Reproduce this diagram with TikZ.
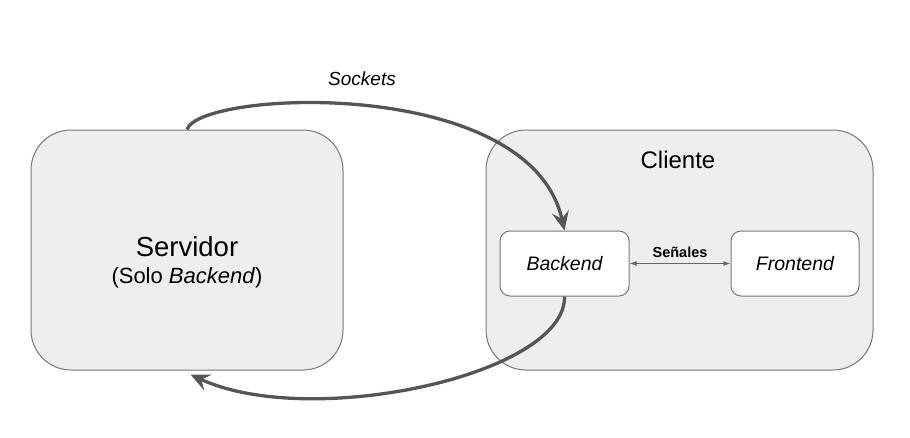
\documentclass[tikz,border=0pt]{standalone}
\usepackage{fontspec}
\setmainfont{Liberation Sans}
\usetikzlibrary{arrows.meta,calc}
\definecolor{boxfill}{HTML}{EEEEEE}
\definecolor{boxline}{HTML}{777777}
\definecolor{arrowc}{HTML}{555555}
\begin{document}
\begin{tikzpicture}[x=1pt,y=-1pt,
  outerbox/.style={draw=boxline,fill=boxfill,line width=1pt,rounded corners=40pt,inner sep=0pt},
  innerbox/.style={draw=boxline,fill=white,line width=1pt,rounded corners=10pt,inner sep=0pt,
    minimum width=129pt,minimum height=65pt,font=\fontsize{19.5}{22}\selectfont\itshape},
  bigarrow/.style={draw=arrowc,line width=3.3pt,-{Stealth[length=19pt,width=17pt,inset=7pt]}},
  smallarrow/.style={draw=arrowc!90,line width=0.9pt,{Latex[length=7pt,width=5pt]}-{Latex[length=7pt,width=5pt]}}]
\useasboundingbox (0,0) rectangle (910,437);
\node[outerbox,minimum width=312pt,minimum height=240pt] (srv) at (187,250) {};
\node[outerbox,minimum width=387pt,minimum height=240pt] (cli) at (679.5,250) {};
\node[font=\fontsize{24}{28}\selectfont] (clilabel) at (678,160) {Cliente};
\node[font=\fontsize{27.5}{30}\selectfont] (srvlabel) at (187,247) {Servidor};
\node[font=\fontsize{22}{26}\selectfont] (srvsub) at (187,278) {(Solo \textit{Backend})};
\node[innerbox] (be) at (564.5,263.5) {Backend};
\node[innerbox,minimum width=128pt] (fe) at (795,263.5) {Frontend};
\draw[smallarrow] (be.east) -- (fe.west) node[midway,above=2pt,font=\fontsize{14.5}{16}\bfseries] (senales) {Señales};
\node[font=\fontsize{19}{22}\selectfont\itshape] (sockets) at (362,79) {Sockets};
\coordinate (srvin) at ($(srv.south west)+(160,4)$);
\draw[bigarrow] (srv.north) .. controls (200,90) and (530,75) .. (be.north);
\draw[bigarrow] (be.south) .. controls (566,375) and (310,430) .. (srvin);
\end{tikzpicture}
\end{document}
